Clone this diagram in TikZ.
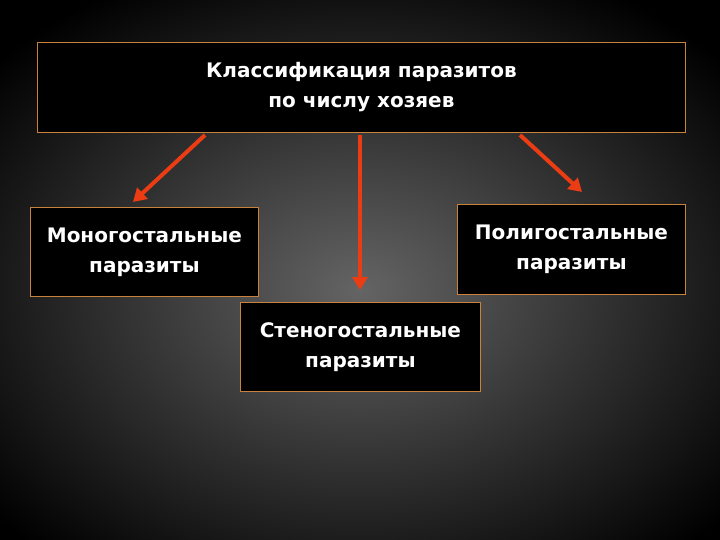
\documentclass[tikz,border=0pt]{standalone}
\usepackage{fontspec}
\setmainfont{DejaVu Sans}
\usetikzlibrary{arrows.meta}
\begin{document}
\begin{tikzpicture}[x=1pt,y=-1pt,
  box/.style={draw={rgb,255:red,200;green,130;blue,60}, line width=0.8pt, fill=black, text=white, font=\bfseries\fontsize{20}{30}\selectfont, align=center, anchor=north west, inner sep=0pt},
  arr/.style={draw={rgb,255:red,235;green,60;blue,20}, line width=4pt, -{Triangle[length=13pt,width=15pt]}}]
\useasboundingbox (0,0) rectangle (720,540);
\shade[inner color={rgb,255:red,100;green,100;blue,100}, outer color=black] (-120,-60) rectangle (840,640);
\node[box, minimum width=648pt, minimum height=90pt] (top) at (37,42) {Классификация паразитов\\по числу хозяев};
\node[box, minimum width=228pt, minimum height=89pt] (mono) at (30,207) {Моногостальные\\паразиты};
\node[box, minimum width=228pt, minimum height=90pt] (poly) at (457,204) {Полигостальные\\паразиты};
\node[box, minimum width=240pt, minimum height=89pt] (steno) at (240,302) {Стеногостальные\\паразиты};
\coordinate (a1) at (205,135); \coordinate (b1) at (133,202);
\coordinate (a2) at (360,135); \coordinate (b2) at (360,290);
\coordinate (a3) at (520,135); \coordinate (b3) at (582,192);
\draw[arr] (a1) -- (b1);
\draw[arr] (a2) -- (b2);
\draw[arr] (a3) -- (b3);
\end{tikzpicture}
\end{document}
